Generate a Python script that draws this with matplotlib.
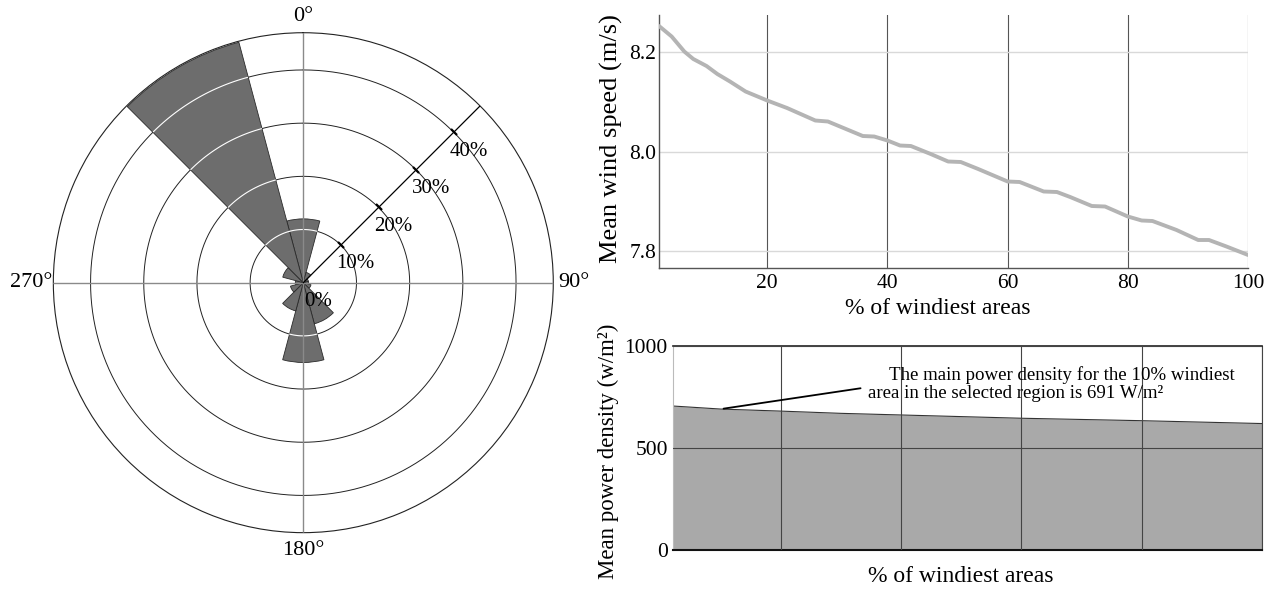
import numpy as np
import matplotlib
matplotlib.use('Agg')
import matplotlib.pyplot as plt
from matplotlib.markers import MarkerStyle
from matplotlib.transforms import Affine2D

plt.rcParams['font.family'] = ['Liberation Serif', 'DejaVu Serif']

# wind rose: frequency (%) per 30 degree sector
directions = [0, 30, 60, 90, 120, 150, 180, 210, 240, 270, 300, 330]
frequency = [12, 2, 1, 1, 1.5, 8, 15, 5.5, 2.5, 1.5, 4, 46.8]
rings = [10, 20, 30, 40]
r_max = 47

# mean wind speed vs % of windiest areas
pct_speed = [2, 4.1, 6.2, 7.7, 9.9, 11.7, 13.8, 16.4, 20, 23.3, 28, 30.1, 32.7, 35.9,
             37.8, 40, 42.1, 43.9, 47.2, 50.1, 52.2, 55.1, 60, 62, 66, 68.2, 70.4,
             74, 76.2, 80, 82.3, 84.1, 88.1, 91.7, 93.5, 96.4, 100]
speed = [8.251, 8.230, 8.200, 8.185, 8.171, 8.155, 8.140, 8.120, 8.102, 8.087, 8.062,
         8.060, 8.047, 8.031, 8.030, 8.022, 8.012, 8.011, 7.995, 7.980, 7.979, 7.965,
         7.940, 7.939, 7.920, 7.919, 7.909, 7.891, 7.890, 7.870, 7.862, 7.861, 7.843,
         7.823, 7.823, 7.810, 7.793]

# mean power density vs % of windiest areas
pct_power = [2, 10, 20, 30, 40, 60, 80, 100]
power = [706, 691, 681, 670, 662, 646, 634, 620]

fig = plt.figure(figsize=(12.76, 5.89), dpi=100)

# ---- wind rose
ax = fig.add_axes([0.0418, 0.0956, 0.3918, 0.8489], projection='polar')
ax.set_theta_zero_location('N')
ax.set_theta_direction(-1)
ax.set_ylim(0, r_max)
ax.grid(False)
ax.set_xticks([])
ax.set_yticks([])
ax.spines['polar'].set_linewidth(0.8)
ax.spines['polar'].set_color('#222222')

theta = np.radians(directions)
half = np.radians(15)
ax.bar(theta, frequency, width=2 * half, bottom=0, color='#6d6d6d',
       edgecolor='#2a2a2a', linewidth=0.6, zorder=2)

full = np.linspace(0, 2 * np.pi, 361)
for r in rings:
    ax.plot(full, np.full_like(full, r), color='#222222', lw=0.7, zorder=1)
    # rings show up white where they cross the bars
    for t, f in zip(theta, frequency):
        if f > r:
            arc = np.linspace(t - half + 0.004, t + half - 0.004, 40)
            ax.plot(arc, np.full_like(arc, r), color='white', lw=0.8, zorder=3)

for d in [0, 90, 180, 270]:
    ax.plot([np.radians(d)] * 2, [0, r_max], color='#8a8a8a', lw=1.0, zorder=4)
ax.plot([np.pi / 4] * 2, [0, r_max], color='black', lw=0.9, zorder=4)

tick = MarkerStyle('_', transform=Affine2D().rotate_deg(-45))
for r in rings:
    ax.plot(np.pi / 4, r, marker=tick, markersize=7, mew=1.6, color='black', zorder=5)
for r in [0] + rings:
    ax.annotate(f'{r}%', xy=(np.pi / 4, r), xytext=(10.5, -13.5), textcoords='offset points',
                ha='center', va='center', fontsize=15, zorder=6)

ax.text(0, 48.2, '0°', ha='center', va='bottom', fontsize=16, clip_on=False)
ax.text(np.pi / 2, 48.0, '90°', ha='left', va='center', fontsize=16, clip_on=False)
ax.text(np.pi, 48.6, '180°', ha='center', va='top', fontsize=16, clip_on=False)
ax.text(3 * np.pi / 2, 47.2, '270°', ha='right', va='center', fontsize=16, clip_on=False)

# ---- mean wind speed
ax2 = fig.add_axes([0.5165, 0.545, 0.4616, 0.4295])
ax2.plot(pct_speed, speed, color='#b4b4b4', lw=2.8, solid_capstyle='round', zorder=3)
ax2.set_xlim(2, 100)
ax2.set_ylim(7.767, 8.273)
ax2.set_xticks([20, 40, 60, 80, 100])
ax2.set_yticks([7.8, 8.0, 8.2])
ax2.set_yticklabels(['7.8', '8.0', '8.2'])
ax2.yaxis.grid(True, color='#d9d9d9', lw=1.0)
ax2.xaxis.grid(True, color='#555555', lw=0.8)
for s in ['top', 'right']:
    ax2.spines[s].set_visible(False)
for s in ['left', 'bottom']:
    ax2.spines[s].set_color('#555555')
    ax2.spines[s].set_linewidth(1.0)
ax2.tick_params(axis='x', length=0, labelsize=15.5, pad=4)
ax2.tick_params(axis='y', length=0, labelsize=15.5, pad=2)

fig.text(611 / 1276, 0.7649, 'Mean wind speed (m/s)', rotation=90, ha='center', va='center', fontsize=19)
fig.text(938 / 1276, 0.4754, '% of windiest areas', ha='center', va='center', fontsize=17)

# ---- mean power density
ax3 = fig.add_axes([0.5272, 0.0662, 0.4618, 0.3463])
ax3.fill_between(pct_power, power, 0, color='#a9a9a9', lw=0, zorder=1)
ax3.plot(pct_power, power, color='#333333', lw=0.8, zorder=2)
ax3.set_xlim(2, 100)
ax3.set_ylim(0, 1000)
ax3.set_xticks([20, 40, 60, 80, 100])
ax3.set_xticklabels([])
ax3.set_yticks([0, 500, 1000])
ax3.set_axisbelow(False)
ax3.grid(True, color='#444444', lw=0.8)
ax3.spines['top'].set_color('#222222')
ax3.spines['top'].set_linewidth(1.2)
ax3.spines['bottom'].set_color('#111111')
ax3.spines['bottom'].set_linewidth(1.5)
ax3.spines['left'].set_color('#bbbbbb')
ax3.spines['left'].set_linewidth(0.8)
ax3.spines['right'].set_color('#444444')
ax3.spines['right'].set_linewidth(0.8)
ax3.tick_params(length=0, labelsize=15.5, pad=3.6)

ax3.annotate('', xy=(10, 691), xytext=(33.7, 795),
             arrowprops=dict(arrowstyle='-', color='black', lw=1.3))
ax3.text(37.9, 860, 'The main power density for the 10% windiest', ha='left', va='center', fontsize=13.6)
ax3.text(34.5, 768, 'area in the selected region is 691 W/m²', ha='left', va='center', fontsize=13.6)

fig.text(608 / 1276, 0.2343, 'Mean power density (w/m²)', rotation=90, ha='center', va='center', fontsize=16.5)
fig.text(961 / 1276, 0.0204, '% of windiest areas', ha='center', va='center', fontsize=17)

fig.savefig('out.png', dpi=100, facecolor='white')
